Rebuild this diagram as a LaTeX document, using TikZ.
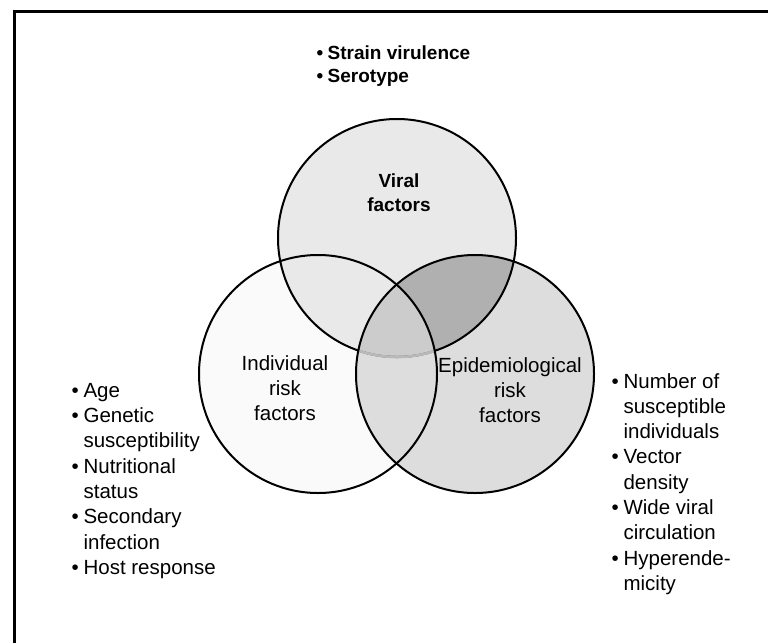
\documentclass[tikz,border=0pt]{standalone}
\usepackage{fontspec}
\setmainfont{Liberation Sans}
\newcommand{\itm}[1]{\makebox[0.58em][l]{\textbullet}#1}
\newcommand{\cnt}[1]{\hspace*{0.58em}#1}

\begin{document}
\begin{tikzpicture}[x=1pt,y=-1pt,
  ring/.style={draw=black,line width=2pt},
  setlabel/.style={align=center,inner sep=0pt,font=\fontsize{20.5}{25}\selectfont},
  listtext/.style={align=left,inner sep=0pt,anchor=north west,font=\fontsize{20.5}{25.3}\selectfont}]
\useasboundingbox (0,0) rectangle (768,643);
\draw[line width=3pt] (768,11) -- (14,11) -- (14,643);
\coordinate (vir) at (397,238);
\coordinate (ind) at (318,374);
\coordinate (epi) at (475,374);
\fill[gray!4] (ind) circle[radius=119pt];
\fill[gray!17] (vir) circle[radius=119pt];
\fill[gray!27] (epi) circle[radius=119pt];
\begin{scope}
\clip (vir) circle[radius=119pt];
\fill[gray!62] (epi) circle[radius=119pt];
\clip (ind) circle[radius=119pt];
\fill[gray!40] (epi) circle[radius=119pt];
\end{scope}
\draw[ring] (vir) circle[radius=119pt];
\begin{scope}
\clip (ind) circle[radius=119pt];
\clip (epi) circle[radius=119pt];
\draw[gray!55,line width=2.6pt] (vir) circle[radius=119pt];
\end{scope}
\draw[ring] (ind) circle[radius=119pt];
\draw[ring] (epi) circle[radius=119pt];
\node[setlabel,font=\fontsize{19}{24}\selectfont\bfseries] (virlbl) at (399,193) {Viral\\factors};
\node[setlabel] (indlbl) at (285,388) {Individual\\risk\\factors};
\node[setlabel] (epilbl) at (510,390) {Epidemiological\\risk\\factors};
\node[listtext,font=\fontsize{19}{23}\selectfont\bfseries] (virlist) at (316.5,46) {\itm{Strain virulence}\\\itm{Serotype}};
\node[listtext] (indlist) at (71.5,383) {\itm{Age}\\\itm{Genetic}\\\cnt{susceptibility}\\\itm{Nutritional}\\\cnt{status}\\\itm{Secondary}\\\cnt{infection}\\\itm{Host response}};
\node[listtext] (epilist) at (611.5,373) {\itm{Number of}\\\cnt{susceptible}\\\cnt{individuals}\\\itm{Vector}\\\cnt{density}\\\itm{Wide viral}\\\cnt{circulation}\\\itm{Hyperende-}\\\cnt{micity}};
\end{tikzpicture}
\end{document}
